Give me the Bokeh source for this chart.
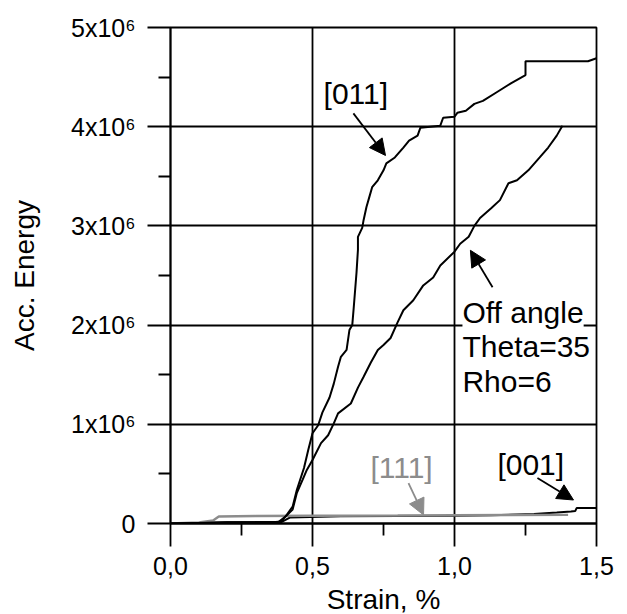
from bokeh.plotting import figure
from bokeh.models import FixedTicker, Range1d, Label, Arrow, NormalHead
from bokeh.embed import file_html
from bokeh.resources import INLINE

# ---- data (energy in units of 1e6) ----
strain_011 = [0, 0.1, 0.2, 0.3, 0.37, 0.39, 0.41, 0.43, 0.445, 0.47, 0.485, 0.50, 0.52, 0.535,
              0.56, 0.575, 0.59, 0.60, 0.62, 0.63, 0.64, 0.645, 0.655, 0.66, 0.66, 0.675, 0.68,
              0.69, 0.70, 0.71, 0.73, 0.75, 0.76, 0.79, 0.82, 0.84, 0.87, 0.88, 0.95, 0.96, 1.0,
              1.01, 1.04, 1.07, 1.10, 1.15, 1.20, 1.25, 1.25, 1.47, 1.5]
energy_011 = [0, 0.005, 0.01, 0.012, 0.015, 0.02, 0.09, 0.17, 0.34, 0.56, 0.74, 0.91, 0.99, 1.12,
              1.27, 1.41, 1.58, 1.68, 1.75, 1.95, 2.0, 2.17, 2.53, 2.76, 2.89, 2.98, 3.06,
              3.19, 3.29, 3.39, 3.46, 3.56, 3.63, 3.69, 3.79, 3.86, 3.91, 3.99, 4.01, 4.09, 4.10,
              4.14, 4.16, 4.23, 4.26, 4.35, 4.44, 4.52, 4.66, 4.66, 4.69]

strain_off = [0, 0.2, 0.38, 0.405, 0.43, 0.445, 0.465, 0.48, 0.50, 0.53, 0.555, 0.575, 0.59, 0.635,
              0.66, 0.68, 0.705, 0.73, 0.75, 0.775, 0.80, 0.82, 0.855, 0.89, 0.925, 0.95, 1.0,
              1.02, 1.05, 1.07, 1.09, 1.13, 1.16, 1.19, 1.22, 1.26, 1.30, 1.33, 1.36, 1.38]
energy_off = [0, 0.01, 0.015, 0.07, 0.14, 0.31, 0.44, 0.54, 0.64, 0.81, 0.89, 1.01, 1.11, 1.21,
              1.37, 1.48, 1.62, 1.75, 1.80, 1.87, 2.03, 2.15, 2.25, 2.40, 2.48, 2.60, 2.74,
              2.82, 2.89, 3.0, 3.08, 3.18, 3.26, 3.43, 3.46, 3.56, 3.69, 3.79, 3.91, 4.01]

strain_111 = [0, 0.1, 0.15, 0.17, 0.3, 0.5, 0.8, 1.0, 1.2, 1.4]
energy_111 = [0, 0.01, 0.03, 0.07, 0.075, 0.078, 0.08, 0.083, 0.085, 0.087]

strain_001 = [0, 0.1, 0.17, 0.2, 0.39, 0.42, 0.6, 1.0, 1.13, 1.28, 1.36, 1.41, 1.425, 1.43, 1.5]
energy_001 = [0, 0.005, 0.01, 0.012, 0.015, 0.06, 0.072, 0.078, 0.082, 0.095, 0.11, 0.12, 0.125,
              0.155, 0.155]

x_ticks = [0, 0.5, 1.0, 1.5]
x_tick_labels = ["0,0", "0,5", "1,0", "1,5"]
y_ticks = [0, 1e6, 2e6, 3e6, 4e6, 5e6]
y_tick_labels = ["0", "1x10\u2076", "2x10\u2076", "3x10\u2076", "4x10\u2076", "5x10\u2076"]

SCALE = 1e6
FONT = "Liberation Sans"

p = figure(frame_width=426, frame_height=496, output_backend="svg", toolbar_location=None,
           x_range=Range1d(0, 1.5), y_range=Range1d(0, 5e6),
           min_border_left=170, min_border_right=27, min_border_top=27, min_border_bottom=60)
p.background_fill_color = "white"
p.border_fill_color = "white"
p.outline_line_color = "black"
p.outline_line_width = 1.8

for ax in (p.xaxis[0], p.yaxis[0]):
    ax.axis_line_color = "black"
    ax.axis_line_width = 1.8
    ax.major_tick_line_color = "black"
    ax.major_tick_line_width = 1.8
    ax.minor_tick_line_color = "black"
    ax.minor_tick_line_width = 1.8
    ax.major_tick_in = 0
    ax.minor_tick_in = 0
    ax.major_tick_out = 23
    ax.minor_tick_out = 12
    ax.major_label_text_font = FONT
    ax.major_label_text_font_size = "25px"
    ax.major_label_text_color = "black"
    ax.axis_label_text_font = FONT
    ax.axis_label_text_font_size = "28px"
    ax.axis_label_text_font_style = "normal"
    ax.axis_label_text_color = "black"

p.xaxis.ticker = FixedTicker(ticks=x_ticks, minor_ticks=[0.25, 0.75, 1.25])
p.yaxis.ticker = FixedTicker(ticks=y_ticks, minor_ticks=[0.5e6, 1.5e6, 2.5e6, 3.5e6, 4.5e6])
p.xaxis.major_label_overrides = dict(zip(x_ticks, x_tick_labels))
p.yaxis.major_label_overrides = dict(zip(y_ticks, y_tick_labels))
p.xaxis.axis_label = "Strain, %"
p.yaxis.axis_label = "Acc. Energy"
p.xaxis.major_label_standoff = 10
p.yaxis.major_label_standoff = 12
p.xaxis.axis_label_standoff = 6
p.yaxis.axis_label_standoff = 28

p.xgrid.ticker = FixedTicker(ticks=x_ticks)
p.ygrid.ticker = FixedTicker(ticks=y_ticks)
for g in (p.xgrid[0], p.ygrid[0]):
    g.grid_line_color = "black"
    g.grid_line_width = 1.8

def sc(v):
    return [e * SCALE for e in v]

p.line(strain_001, sc(energy_001), line_color="black", line_width=2)
p.line(strain_111, sc(energy_111), line_color="#8c8c8c", line_width=2.4)
p.line(strain_off, sc(energy_off), line_color="black", line_width=2)
p.line(strain_011, sc(energy_011), line_color="black", line_width=2)

def lab(x, y, t, color="black", bg=None):
    l = Label(x=x, y=y * SCALE, text=t, text_font=FONT, text_font_size="30px",
              text_color=color, text_baseline="middle", text_align="left")
    if bg:
        l.background_fill_color = bg
    p.add_layout(l)

lab(0.539, 4.33, "[011]")
lab(1.028, 2.13, "Off angle", bg="white")
lab(1.028, 1.78, "Theta=35", bg="white")
lab(1.028, 1.435, "Rho=6", bg="white")
lab(0.704, 0.569, "[111]", color="#8c8c8c")
lab(1.151, 0.594, "[001]")

def arr(x0, y0, x1, y1, color="black"):
    p.add_layout(Arrow(x_start=x0, y_start=y0 * SCALE, x_end=x1, y_end=y1 * SCALE,
                       line_color=color, line_width=1.8,
                       end=NormalHead(size=16, fill_color=color, line_color=color)))

arr(0.644, 4.134, 0.757, 3.71)
arr(1.134, 2.382, 1.056, 2.754)
arr(0.838, 0.408, 0.891, 0.086, color="#8c8c8c")
arr(1.292, 0.458, 1.419, 0.237)

open("out.html", "w").write(file_html(p, INLINE))
